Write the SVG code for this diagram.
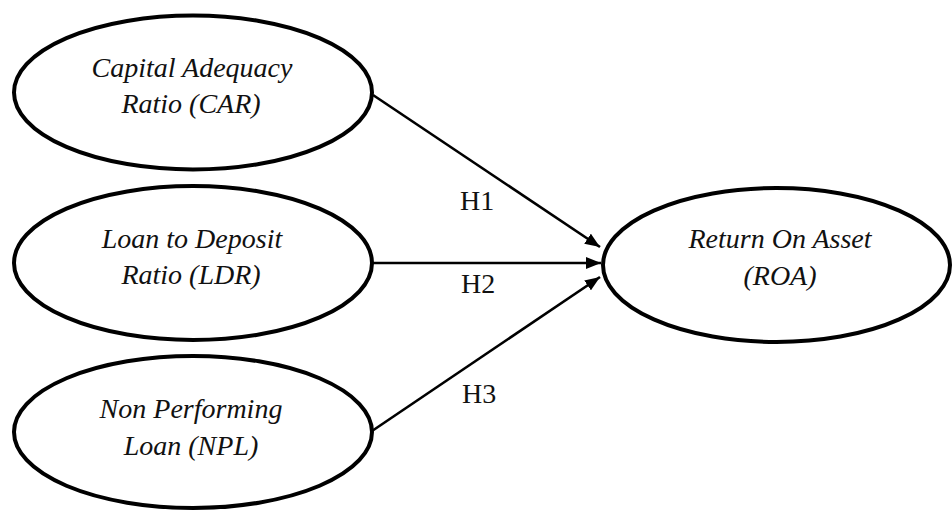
<svg xmlns="http://www.w3.org/2000/svg" width="952" height="512" viewBox="0 0 952 512">
<style>
.node ellipse{fill:#fff;stroke:#000;stroke-width:4}
.lbl{font-family:"Liberation Serif","Times New Roman",serif;font-size:28px;font-style:italic;fill:#111;text-anchor:middle}
.h{font-family:"Liberation Serif","Times New Roman",serif;font-size:28px;fill:#111}
.conn line{stroke:#000;stroke-width:2.6;fill:none}
</style>
<defs>
<marker id="arr" markerUnits="userSpaceOnUse" markerWidth="16" markerHeight="12" refX="15" refY="6" orient="auto">
<path d="M0,0 L15,6 L0,12 Z" fill="#000"/>
</marker>
</defs>
<rect width="952" height="512" fill="#fff"/>
<g id="connectors" class="conn">
<line x1="373" y1="95" x2="600" y2="247" marker-end="url(#arr)"/>
<line x1="373" y1="263" x2="601" y2="263" marker-end="url(#arr)"/>
<line x1="372" y1="431" x2="600" y2="277" marker-end="url(#arr)"/>
<text class="h" x="460" y="210">H1</text>
<text class="h" x="461" y="293">H2</text>
<text class="h" x="462" y="403">H3</text>
</g>
<g id="car" class="node">
<ellipse cx="193" cy="92.5" rx="179" ry="77"/>
<text class="lbl" x="192" y="77">Capital Adequacy</text>
<text class="lbl" x="191" y="113">Ratio (CAR)</text>
</g>
<g id="ldr" class="node">
<ellipse cx="193" cy="263" rx="179" ry="77"/>
<text class="lbl" x="192" y="248">Loan to Deposit</text>
<text class="lbl" x="191" y="284">Ratio (LDR)</text>
</g>
<g id="npl" class="node">
<ellipse cx="193" cy="432" rx="179" ry="76"/>
<text class="lbl" x="191" y="418">Non Performing</text>
<text class="lbl" x="191" y="455">Loan (NPL)</text>
</g>
<g id="roa" class="node">
<ellipse cx="776.5" cy="265" rx="173.5" ry="77"/>
<text class="lbl" x="780" y="248">Return On Asset</text>
<text class="lbl" x="780" y="285">(ROA)</text>
</g>
</svg>
